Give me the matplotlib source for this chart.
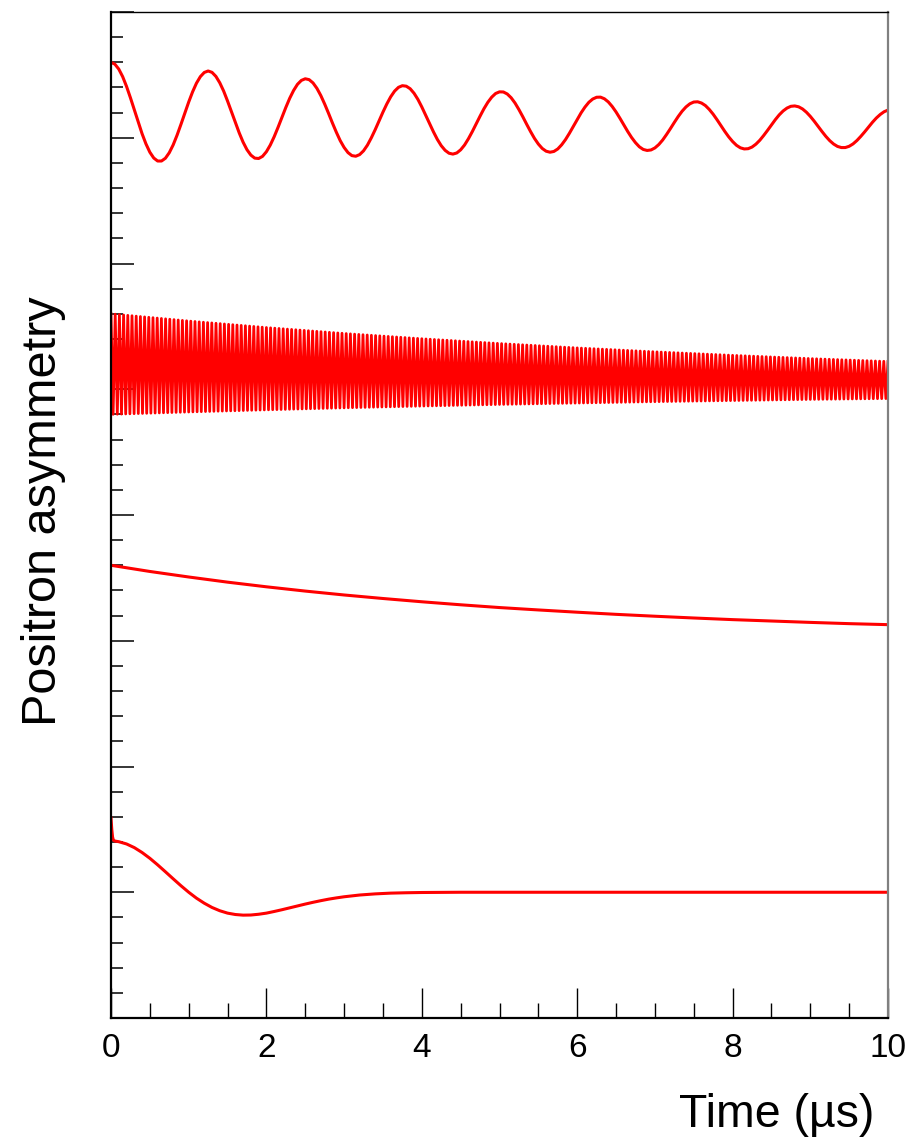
import numpy as np
import matplotlib.pyplot as plt
from matplotlib.ticker import MultipleLocator

# ---- values (y in plot units, 0..8) ----

# time grid (us) for the slow precession curve, every 0.05 us
time_precession = np.round(np.arange(0, 10.001, 0.05), 3)
# slow precession, sits around 7 on the y scale
asym_precession = [
    7.600, 7.585, 7.546, 7.486, 7.408, 7.318, 7.222, 7.124, 7.032, 6.951,
    6.885, 6.839, 6.815, 6.815, 6.837, 6.881, 6.943, 7.020, 7.106, 7.196,
    7.284, 7.365, 7.434, 7.486, 7.519, 7.531, 7.520, 7.488, 7.437, 7.371,
    7.292, 7.207, 7.121, 7.039, 6.965, 6.905, 6.862, 6.838, 6.835, 6.852,
    6.889, 6.942, 7.008, 7.083, 7.163, 7.241, 7.314, 7.376, 7.425, 7.456,
    7.469, 7.462, 7.436, 7.393, 7.336, 7.268, 7.194, 7.117, 7.044, 6.977,
    6.923, 6.882, 6.858, 6.853, 6.866, 6.896, 6.941, 6.999, 7.064, 7.134,
    7.204, 7.269, 7.326, 7.371, 7.401, 7.414, 7.410, 7.390, 7.354, 7.305,
    7.245, 7.180, 7.113, 7.047, 6.987, 6.937, 6.900, 6.877, 6.870, 6.879,
    6.904, 6.942, 6.992, 7.049, 7.111, 7.172, 7.231, 7.282, 7.323, 7.352,
    7.365, 7.364, 7.348, 7.318, 7.276, 7.224, 7.167, 7.107, 7.049, 6.995,
    6.950, 6.915, 6.893, 6.885, 6.891, 6.911, 6.944, 6.986, 7.036, 7.090,
    7.145, 7.198, 7.244, 7.282, 7.308, 7.322, 7.323, 7.310, 7.285, 7.249,
    7.205, 7.155, 7.102, 7.050, 7.002, 6.961, 6.928, 6.907, 6.899, 6.903,
    6.919, 6.946, 6.982, 7.026, 7.073, 7.122, 7.169, 7.211, 7.245, 7.270,
    7.284, 7.286, 7.276, 7.256, 7.225, 7.187, 7.143, 7.096, 7.050, 7.007,
    6.970, 6.940, 6.920, 6.911, 6.913, 6.926, 6.949, 6.980, 7.018, 7.059,
    7.102, 7.144, 7.182, 7.213, 7.236, 7.250, 7.253, 7.246, 7.229, 7.203,
    7.170, 7.132, 7.091, 7.050, 7.011, 6.977, 6.950, 6.931, 6.922, 6.922,
    6.932, 6.951, 6.978, 7.011, 7.047, 7.085, 7.123, 7.157, 7.185, 7.207,
    7.220,
]

# fast precession band: envelope read every 1 us and number of wiggles
time_envelope = [0, 1, 2, 3, 4, 5, 6, 7, 8, 9, 10]
fast_upper = [5.600, 5.543, 5.491, 5.444, 5.402, 5.364, 5.329, 5.298, 5.270, 5.244, 5.221]
fast_lower = [4.800, 4.819, 4.836, 4.852, 4.866, 4.879, 4.890, 4.901, 4.910, 4.919, 4.926]
fast_cycles = 185

# slow exponential relaxation
time_relax = np.round(np.arange(0, 10.01, 0.5), 2)
asym_relax = [3.600, 3.551, 3.507, 3.466, 3.429, 3.395, 3.364, 3.336, 3.310, 3.286,
              3.264, 3.245, 3.227, 3.210, 3.195, 3.181, 3.168, 3.157, 3.146, 3.136,
              3.128]

# zero field Kubo-Toyabe like dip with the spike at t = 0
time_kt = [0, 0.01, 0.02, 0.03, 0.05,
           0.1, 0.2, 0.3, 0.4, 0.5, 0.6, 0.7, 0.8, 0.9, 1.0,
           1.1, 1.2, 1.3, 1.4, 1.5, 1.6, 1.7, 1.8, 1.9, 2.0,
           2.1, 2.2, 2.3, 2.4, 2.5, 2.6, 2.7, 2.8, 2.9, 3.0,
           3.2, 3.4, 3.6, 3.8, 4.0, 4.5, 5, 6, 7, 8, 9, 10]
asym_kt = [1.590, 1.500, 1.440, 1.415, 1.407,
           1.402, 1.384, 1.355, 1.316, 1.270, 1.218, 1.163, 1.107, 1.052, 1.000,
           0.953, 0.913, 0.879, 0.853, 0.834, 0.823, 0.818, 0.819, 0.825, 0.834,
           0.847, 0.861, 0.876, 0.891, 0.906, 0.920, 0.933, 0.945, 0.955, 0.964,
           0.978, 0.987, 0.993, 0.996, 0.998, 1.000, 1.000, 1.000, 1.000, 1.000,
           1.000, 1.000]

x_ticks = [0, 2, 4, 6, 8, 10]
x_label = "Time (µs)"
y_label = "Positron asymmetry"


def fast_band_points():
    # one line going up and down between the two envelopes
    n = 2 * fast_cycles + 1
    t = np.linspace(time_envelope[0], time_envelope[-1], n)
    up = np.interp(t, time_envelope, fast_upper)
    low = np.interp(t, time_envelope, fast_lower)
    v = np.where(np.arange(n) % 2 == 0, up, low)
    return t, v


def main():
    plt.rcParams['font.family'] = ['Liberation Sans', 'DejaVu Sans']
    fig = plt.figure(figsize=(9.08, 11.39), dpi=100)
    ax = fig.add_axes([111 / 908, 121 / 1139, 777 / 908, 1006 / 1139])

    red = "#ff0000"
    ax.plot(time_precession, asym_precession, color=red, lw=2.2)
    t_fast, v_fast = fast_band_points()
    ax.plot(t_fast, v_fast, color=red, lw=2.0)
    ax.plot(time_relax, asym_relax, color=red, lw=2.2)
    ax.plot(time_kt, asym_kt, color=red, lw=2.2)

    ax.set_xlim(0, 10)
    ax.set_ylim(0, 8)

    # ROOT style ticks, pointing inside
    ax.xaxis.set_major_locator(MultipleLocator(2))
    ax.xaxis.set_minor_locator(MultipleLocator(0.5))
    ax.yaxis.set_major_locator(MultipleLocator(1))
    ax.yaxis.set_minor_locator(MultipleLocator(0.2))
    ax.set_xticks(x_ticks)
    ax.set_xticklabels([str(v) for v in x_ticks])
    ax.tick_params(axis='x', which='major', direction='in', length=21.5,
                   width=1.0, labelsize=24, pad=11, colors='black')
    ax.tick_params(axis='x', which='minor', direction='in', length=10.8, width=1.0)
    ax.tick_params(axis='y', which='major', direction='in', length=16.5,
                   width=1.1, labelleft=False)
    ax.tick_params(axis='y', which='minor', direction='in', length=8.6, width=1.1)

    for side in ['left', 'bottom']:
        ax.spines[side].set_linewidth(1.6)
        ax.spines[side].set_color('black')
    ax.spines['top'].set_linewidth(1.0)
    ax.spines['right'].set_linewidth(1.6)
    ax.spines['right'].set_color('#808080')

    # axis titles
    fig.text(874 / 908, 12 / 1139, x_label, fontsize=33.5, ha='right', va='baseline')
    fig.text(44 / 908, 1 - 511 / 1139, y_label, fontsize=35, rotation=90,
             ha='center', va='center')

    fig.savefig("out.png", dpi=100)


main()
